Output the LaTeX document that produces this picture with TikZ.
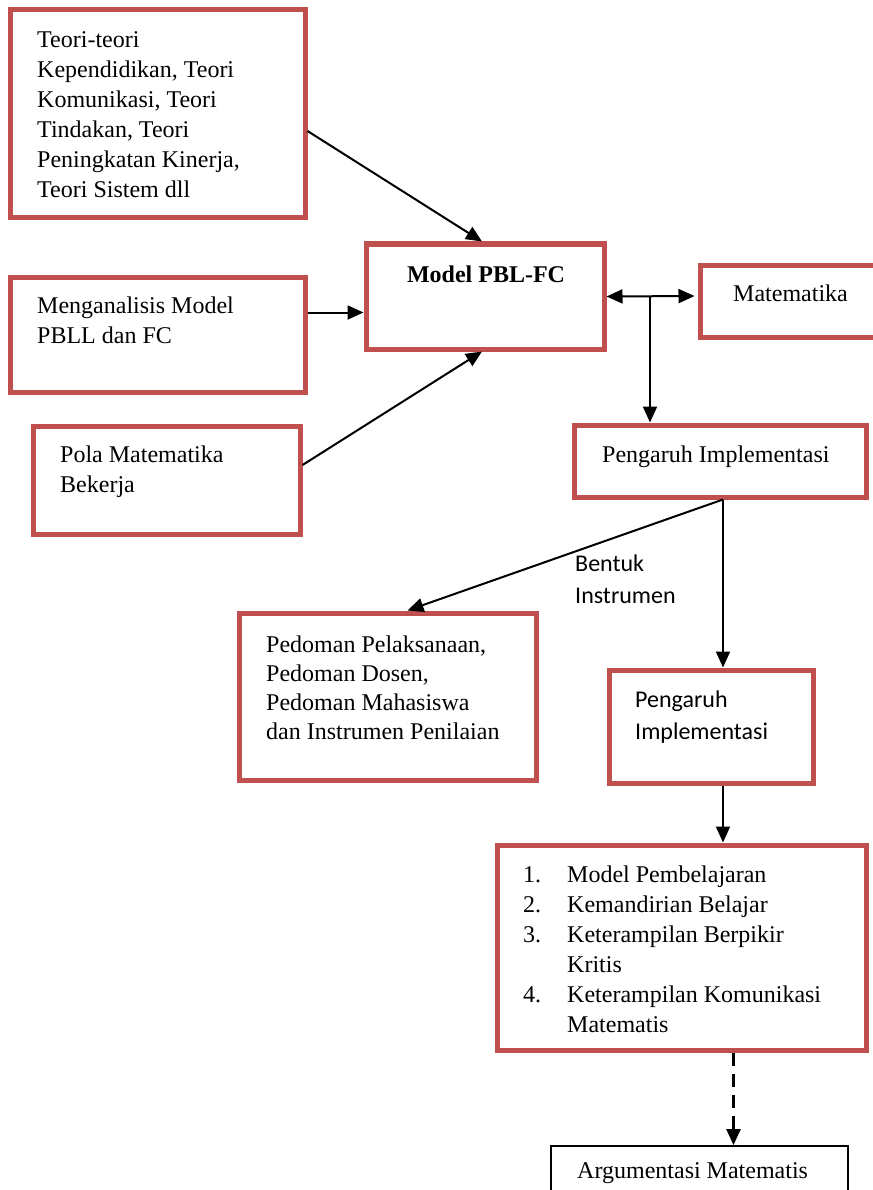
\documentclass[tikz,border=0pt]{standalone}
\usepackage{fontspec}
\setmainfont{Liberation Serif}
\newfontfamily\calibri{Carlito}
\usetikzlibrary{arrows.meta}
\definecolor{boxred}{RGB}{192,80,77}
\tikzset{
  redbox/.style={draw=boxred,line width=5pt},
  txt/.style={anchor=base west,align=left,inner sep=0pt,font=\fontsize{24}{30}\selectfont},
  sanstxt/.style={txt,font=\calibri\fontsize{24}{31.5}\selectfont},
  >={Triangle[length=16pt,width=14pt]},
  arr/.style={->,line width=2pt}
}
\newcommand{\itm}[1]{\makebox[44pt][l]{#1}}
\begin{document}
\begin{tikzpicture}[x=1pt,y=-1pt]
\useasboundingbox (0,0) rectangle (872,1190);
\node[redbox,minimum width=295pt,minimum height=208pt] (teori) at (157.5,114) {};
\node[redbox,minimum width=295pt,minimum height=115pt] (analisis) at (157.5,334.5) {};
\node[redbox,minimum width=267pt,minimum height=108pt] (pola) at (166.5,480) {};
\node[redbox,minimum width=238pt,minimum height=105pt] (model) at (485,296.5) {};
\node[redbox,minimum width=180pt,minimum height=72pt] (mat) at (790,301) {};
\node[redbox,minimum width=292pt,minimum height=72pt] (peng) at (720,461) {};
\node[redbox,minimum width=297pt,minimum height=167pt] (pedoman) at (387.5,696.5) {};
\node[redbox,minimum width=204pt,minimum height=113pt] (pengdua) at (711,726.5) {};
\node[redbox,minimum width=369pt,minimum height=205pt] (hasil) at (681.5,947.5) {};
\node[draw,line width=1.8pt,minimum width=297pt,minimum height=54pt] (argumen) at (699.5,1173) {};
\node[txt] (teoriT) at (37,198) {Teori-teori\\Kependidikan, Teori\\Komunikasi, Teori\\Tindakan, Teori\\Peningkatan Kinerja,\\Teori Sistem dll};
\node[txt] (analisisT) at (37,343) {Menganalisis Model\\PBLL dan FC};
\node[txt] (polaT) at (60,492) {Pola Matematika\\Bekerja};
\node[txt,anchor=base] (modelT) at (486,282) {\bfseries Model PBL-FC};
\node[txt] (matT) at (733,301) {Matematika};
\node[txt] (pengT) at (602,462) {Pengaruh Implementasi};
\node[sanstxt] (bentuk) at (575,603) {Bentuk\\Instrumen};
\node[txt,font=\fontsize{24}{29}\selectfont] (pedomanT) at (266,739) {Pedoman Pelaksanaan,\\Pedoman Dosen,\\Pedoman Mahasiswa\\dan Instrumen Penilaian};
\node[sanstxt] (pengduaT) at (635,739) {Pengaruh\\Implementasi};
\node[txt] (hasilT) at (523,1032) {\itm{1.}Model Pembelajaran\\\itm{2.}Kemandirian Belajar\\\itm{3.}Keterampilan Berpikir\\\itm{}Kritis\\\itm{4.}Keterampilan Komunikasi\\\itm{}Matematis};
\node[txt] (argumenT) at (577,1178) {Argumentasi Matematis};
\coordinate (cabang) at (650,296);
\coordinate (pecah) at ([xshift=3pt]peng.south);
\coordinate (turun) at ([xshift=12pt]pengdua.south);
\coordinate (putus) at ([xshift=52pt]hasil.south);
\draw[arr] ([yshift=-17pt]teori.east) -- ([xshift=-3pt]model.north);
\draw[arr] ([yshift=22pt]analisis.east) -- ([yshift=-16pt]model.west);
\draw[arr] ([yshift=15pt]pola.east) -- ([xshift=-3pt]model.south);
\draw[arr,<->,shorten >=3pt] (model.east) -- ([yshift=5pt]mat.west);
\draw[arr] (cabang) -- (cabang |- peng.north);
\draw[arr] (pecah) -- ([xshift=20pt]pedoman.north);
\draw[arr] (pecah) -- (pecah |- pengdua.north);
\draw[arr] (turun) -- (turun |- hasil.north);
\draw[arr,dash pattern=on 13pt off 8pt,line width=2.4pt] (putus) -- (putus |- argumen.north);
\end{tikzpicture}
\end{document}
